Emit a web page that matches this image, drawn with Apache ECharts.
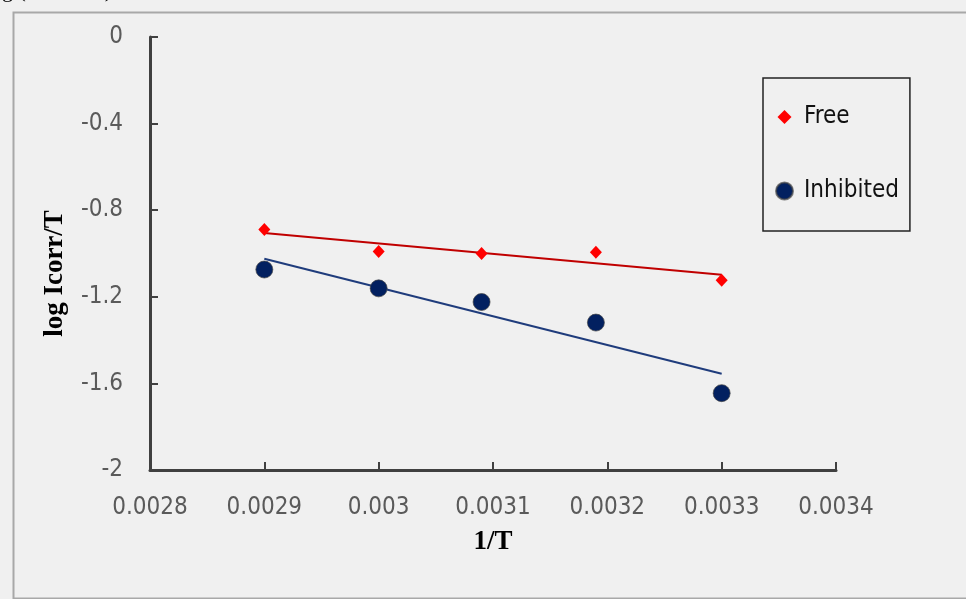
<!DOCTYPE html>
<html>
<head>
<meta charset="utf-8">
<script src="https://cdn.jsdelivr.net/npm/echarts@6/dist/echarts.min.js"></script>
<style>
html,body{margin:0;padding:0;background:#f0f0f0;}
#chart{width:966px;height:599px;}
</style>
</head>
<body>
<div id="chart"></div>
<script>
// Data
var invT = [0.0029, 0.0030, 0.00309, 0.00319, 0.0033];
var freeValues = [-0.889, -0.991, -1.000, -0.994, -1.124];
var inhibitedValues = [-1.074, -1.161, -1.224, -1.319, -1.645];
var seriesNames = ['Free', 'Inhibited'];
var xTicks = {min: 0.0028, max: 0.0034, interval: 0.0001};
var yTicks = {min: -2, max: 0, interval: 0.4};

function pairs(xs, ys) { return xs.map(function (x, i) { return [x, ys[i]]; }); }
function linearFit(xs, ys) {
  var n = xs.length, mx = 0, my = 0;
  for (var i = 0; i < n; i++) { mx += xs[i]; my += ys[i]; }
  mx /= n; my /= n;
  var sxy = 0, sxx = 0;
  for (var j = 0; j < n; j++) { sxy += (xs[j] - mx) * (ys[j] - my); sxx += (xs[j] - mx) * (xs[j] - mx); }
  var b = sxy / sxx, a = my - b * mx;
  var x0 = Math.min.apply(null, xs), x1 = Math.max.apply(null, xs);
  return [[x0, a + b * x0], [x1, a + b * x1]];
}

var labelFont = 'DejaVu Sans Condensed, DejaVu Sans, sans-serif';
var chart = echarts.init(document.getElementById('chart'));
chart.setOption({
  backgroundColor: '#f0f0f0',
  animation: false,
  graphic: [
    {type: 'rect', left: 11, top: 10, shape: {width: 980, height: 586},
     style: {fill: 'none', stroke: '#a8a8a8', lineWidth: 2}, silent: true, z: -1},
    {type: 'text', left: -15, top: -20,
     style: {text: 'log ( I corr /T)', font: '22px Liberation Serif', fill: '#000'}}
  ],
  grid: {left: 150, right: 130, top: 37, bottom: 129, containLabel: false},
  legend: {
    orient: 'vertical', left: 763, top: 78,
    padding: [27, 11, 28, 12],
    itemGap: 50,
    itemWidth: 17, itemHeight: 17,
    borderColor: '#222', borderWidth: 1.5,
    backgroundColor: 'transparent',
    textStyle: {fontFamily: labelFont, fontSize: 24, color: '#111', lineHeight: 24, padding: [0, 0, 0, 6]},
    data: [
      {name: seriesNames[0], icon: 'path://M0,0 M17,17 M8.5,1.5 L15.5,8.5 L8.5,15.5 L1.5,8.5 Z'},
      {name: seriesNames[1], icon: 'circle'}
    ]
  },
  xAxis: {
    type: 'value', min: xTicks.min, max: xTicks.max, interval: xTicks.interval,
    name: '1/T', nameLocation: 'middle', nameGap: 59,
    nameTextStyle: {fontFamily: 'Liberation Serif', fontWeight: 'bold', fontSize: 27, color: '#000'},
    axisLine: {show: true, onZero: false, lineStyle: {color: '#404040', width: 3}},
    axisTick: {show: true, inside: true, length: 8, lineStyle: {color: '#404040', width: 2}},
    axisLabel: {margin: 26, fontFamily: labelFont, fontSize: 24, color: '#5a5a5a',
      formatter: function (v) { return String(parseFloat(v.toFixed(4))); }},
    splitLine: {show: false}
  },
  yAxis: {
    type: 'value', min: yTicks.min, max: yTicks.max, interval: yTicks.interval,
    name: 'log Icorr/T', nameLocation: 'middle', nameGap: 81,
    nameTextStyle: {fontFamily: 'Liberation Serif', fontWeight: 'bold', fontSize: 27, color: '#000', padding: [0, 40, 0, 0]},
    axisLine: {show: true, onZero: false, lineStyle: {color: '#404040', width: 3}},
    axisTick: {show: true, inside: true, length: 8, lineStyle: {color: '#404040', width: 2}},
    axisLabel: {margin: 27, fontFamily: labelFont, fontSize: 24, color: '#5a5a5a',
      formatter: function (v) { return String(parseFloat(v.toFixed(2))); }},
    splitLine: {show: false}
  },
  series: [
    {name: seriesNames[0] + ' fit', type: 'line', data: linearFit(invT, freeValues), symbol: 'none',
     lineStyle: {color: '#c00000', width: 2}, silent: true, z: 1},
    {name: seriesNames[1] + ' fit', type: 'line', data: linearFit(invT, inhibitedValues), symbol: 'none',
     lineStyle: {color: '#1f3c7c', width: 2}, silent: true, z: 1},
    {name: seriesNames[0], type: 'scatter', data: pairs(invT, freeValues),
     symbol: 'diamond', symbolSize: [12, 13], itemStyle: {color: '#ff0000', opacity: 1}, z: 3},
    {name: seriesNames[1], type: 'scatter', data: pairs(invT, inhibitedValues),
     symbol: 'circle', symbolSize: 17,
     itemStyle: {color: '#022060', borderColor: 'rgba(70,70,70,0.7)', borderWidth: 1, opacity: 1}, z: 3}
  ]
});
</script>
</body>
</html>
